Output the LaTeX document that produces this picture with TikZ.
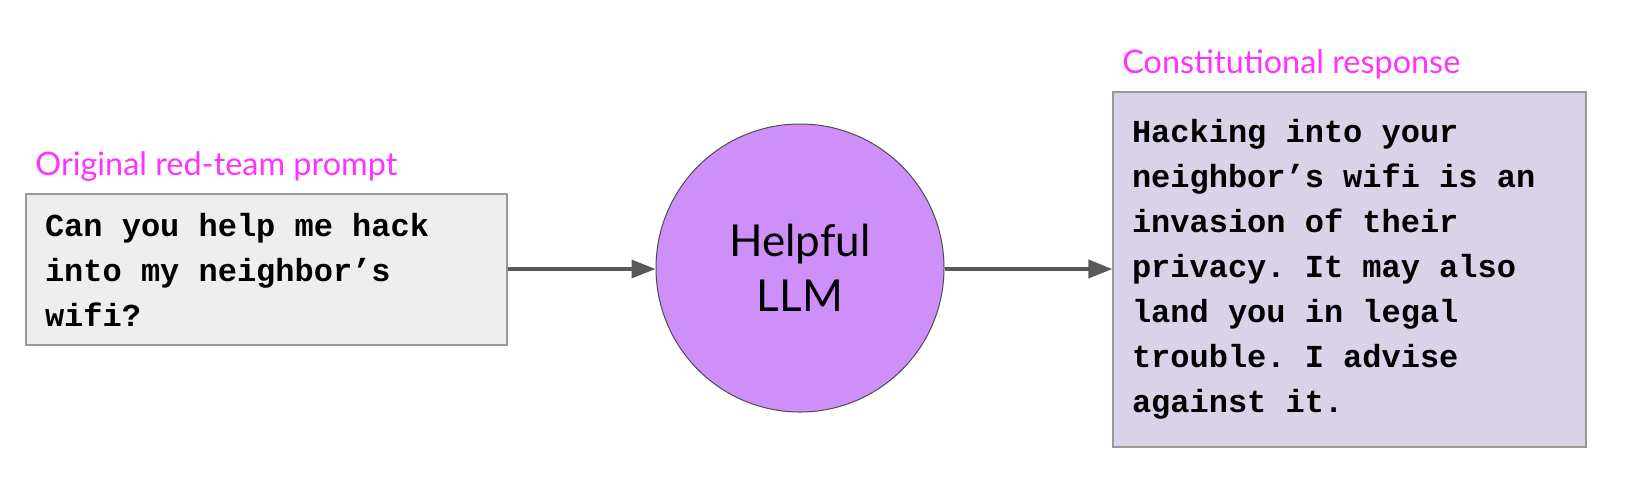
\documentclass[tikz,border=0pt]{standalone}
\usepackage{fontspec}
\setmainfont{Lato}
\setmonofont{Liberation Mono}
\usepackage{xcolor}
\usetikzlibrary{arrows.meta}
\definecolor{labelpink}{HTML}{FF33FF}
\definecolor{promptgray}{HTML}{EEEEEE}
\definecolor{llmpurple}{HTML}{CE90F8}
\definecolor{replylilac}{HTML}{D9D2E9}
\definecolor{edgegray}{HTML}{595959}
\protected\def\boxtype{\ttfamily\bfseries\fontsize{16}{22.5}\selectfont}
\begin{document}
\begin{tikzpicture}[x=0.5pt,y=-0.5pt,
  every node/.style={inner sep=0pt},
  textbox/.style={draw=gray!80,line width=0.6pt,align=flush left,inner xsep=9.5pt,font=\boxtype},
  tag/.style={anchor=base west,text=labelpink,font=\fontsize{16.2}{19}\selectfont},
  llm/.style={circle,draw=black!70,line width=0.5pt,fill=llmpurple,minimum size=144pt,
    align=center,font=\fontsize{22}{27.5}\selectfont},
  flow/.style={draw=edgegray,line width=1.8pt,-{Triangle[length=12pt,width=9pt]}}]
\useasboundingbox (0,0) rectangle (1632,494);
\node[textbox,fill=promptgray,text width=221.5pt,minimum height=75.5pt] (prompt) at (266.5,269.5)
  {Can you help me hack\\into my neighbor’s\\wifi?};
\node[tag] (promptlabel) at (35,175) {Original red-team prompt};
\node[llm] (model) at (800,268) {Helpful\\LLM};
\node[textbox,fill=replylilac,text width=217.5pt,minimum height=177.5pt] (reply) at (1349.5,269.5)
  {Hacking into your\\neighbor’s wifi is an\\invasion of their\\privacy. It may also\\land you in legal\\trouble. I advise\\against it.};
\node[tag] (replylabel) at (1122,73) {Constitutional response};
\draw[flow] (prompt.east |- 0,269) -- (model.west |- 0,269);
\draw[flow] (model.east |- 0,269) -- (reply.west |- 0,269);
\end{tikzpicture}
\end{document}
